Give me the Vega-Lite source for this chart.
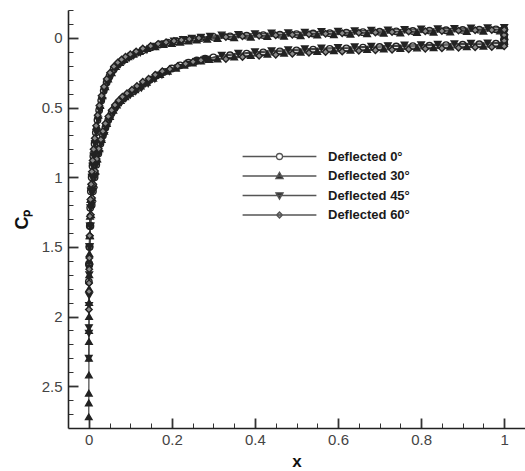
{
  "$schema": "https://vega.github.io/schema/vega-lite/v6.json",
  "width": 457,
  "height": 418,
  "autosize": {"type": "none"},
  "padding": {"left": 68, "top": 10, "right": 0, "bottom": 43},
  "background": "white",
  "config": {
    "view": {"stroke": null},
    "axis": {
      "grid": false,
      "domainColor": "#222222",
      "domainWidth": 1.6,
      "tickColor": "#333333",
      "labelFont": "Liberation Sans",
      "labelFontSize": 15,
      "labelColor": "#444444",
      "titleFont": "Liberation Sans",
      "titleFontWeight": "bold",
      "titleColor": "#111111"
    }
  },
  "data": {
    "values": [
      {"d": "0", "x": 1, "y": -0.02}, {"d": "0", "x": 1, "y": 0.01},
      {"d": "0", "x": 1, "y": 0.04}, {"d": "0", "x": 0.98, "y": 0.042}, {"d": "0", "x": 0.94, "y": 0.046}, {"d": "0", "x": 0.9, "y": 0.049},
      {"d": "0", "x": 0.86, "y": 0.052}, {"d": "0", "x": 0.82, "y": 0.056}, {"d": "0", "x": 0.78, "y": 0.059}, {"d": "0", "x": 0.74, "y": 0.062},
      {"d": "0", "x": 0.7, "y": 0.066}, {"d": "0", "x": 0.66, "y": 0.07}, {"d": "0", "x": 0.62, "y": 0.075}, {"d": "0", "x": 0.58, "y": 0.079},
      {"d": "0", "x": 0.54, "y": 0.084}, {"d": "0", "x": 0.5, "y": 0.09}, {"d": "0", "x": 0.46, "y": 0.097}, {"d": "0", "x": 0.42, "y": 0.104},
      {"d": "0", "x": 0.38, "y": 0.113}, {"d": "0", "x": 0.34, "y": 0.125}, {"d": "0", "x": 0.3, "y": 0.14},
      {"d": "0", "x": 0.28, "y": 0.15}, {"d": "0", "x": 0.26, "y": 0.162}, {"d": "0", "x": 0.24, "y": 0.178}, {"d": "0", "x": 0.22, "y": 0.197},
      {"d": "0", "x": 0.2, "y": 0.22}, {"d": "0", "x": 0.18, "y": 0.245}, {"d": "0", "x": 0.163, "y": 0.27}, {"d": "0", "x": 0.147, "y": 0.3},
      {"d": "0", "x": 0.132, "y": 0.33}, {"d": "0", "x": 0.118, "y": 0.36}, {"d": "0", "x": 0.105, "y": 0.385}, {"d": "0", "x": 0.093, "y": 0.41},
      {"d": "0", "x": 0.082, "y": 0.435}, {"d": "0", "x": 0.072, "y": 0.465}, {"d": "0", "x": 0.063, "y": 0.5}, {"d": "0", "x": 0.055, "y": 0.54},
      {"d": "0", "x": 0.047, "y": 0.59}, {"d": "0", "x": 0.04, "y": 0.645}, {"d": "0", "x": 0.034, "y": 0.7}, {"d": "0", "x": 0.028, "y": 0.76},
      {"d": "0", "x": 0.023, "y": 0.83}, {"d": "0", "x": 0.018, "y": 0.91}, {"d": "0", "x": 0.014, "y": 1.0}, {"d": "0", "x": 0.01, "y": 1.1},
      {"d": "0", "x": 0.007, "y": 1.2}, {"d": "0", "x": 0.004, "y": 1.35}, {"d": "0", "x": 0.002, "y": 1.5},
      {"d": "0", "x": 0.001, "y": 1.63}, {"d": "0", "x": 0.0002, "y": 1.75}, {"d": "0", "x": 0.0008, "y": 1.62},
      {"d": "0", "x": 0.0015, "y": 1.5}, {"d": "0", "x": 0.0025, "y": 1.35}, {"d": "0", "x": 0.0035, "y": 1.22}, {"d": "0", "x": 0.005, "y": 1.1},
      {"d": "0", "x": 0.007, "y": 1.0}, {"d": "0", "x": 0.009, "y": 0.92}, {"d": "0", "x": 0.011, "y": 0.85}, {"d": "0", "x": 0.014, "y": 0.76},
      {"d": "0", "x": 0.017, "y": 0.68}, {"d": "0", "x": 0.021, "y": 0.59}, {"d": "0", "x": 0.025, "y": 0.52}, {"d": "0", "x": 0.03, "y": 0.45},
      {"d": "0", "x": 0.036, "y": 0.38}, {"d": "0", "x": 0.043, "y": 0.32}, {"d": "0", "x": 0.05, "y": 0.275}, {"d": "0", "x": 0.06, "y": 0.225},
      {"d": "0", "x": 0.07, "y": 0.19}, {"d": "0", "x": 0.08, "y": 0.165}, {"d": "0", "x": 0.09, "y": 0.145}, {"d": "0", "x": 0.1, "y": 0.128},
      {"d": "0", "x": 0.115, "y": 0.107}, {"d": "0", "x": 0.13, "y": 0.088}, {"d": "0", "x": 0.15, "y": 0.067}, {"d": "0", "x": 0.17, "y": 0.048},
      {"d": "0", "x": 0.19, "y": 0.034}, {"d": "0", "x": 0.21, "y": 0.024}, {"d": "0", "x": 0.23, "y": 0.015}, {"d": "0", "x": 0.25, "y": 0.007},
      {"d": "0", "x": 0.27, "y": 0.001},
      {"d": "0", "x": 0.3, "y": -0.007}, {"d": "0", "x": 0.34, "y": -0.011}, {"d": "0", "x": 0.38, "y": -0.016}, {"d": "0", "x": 0.42, "y": -0.02},
      {"d": "0", "x": 0.46, "y": -0.023}, {"d": "0", "x": 0.5, "y": -0.027}, {"d": "0", "x": 0.54, "y": -0.031}, {"d": "0", "x": 0.58, "y": -0.034},
      {"d": "0", "x": 0.62, "y": -0.038}, {"d": "0", "x": 0.66, "y": -0.041}, {"d": "0", "x": 0.7, "y": -0.044}, {"d": "0", "x": 0.74, "y": -0.047},
      {"d": "0", "x": 0.78, "y": -0.049}, {"d": "0", "x": 0.82, "y": -0.052}, {"d": "0", "x": 0.86, "y": -0.055}, {"d": "0", "x": 0.9, "y": -0.057},
      {"d": "0", "x": 0.94, "y": -0.059}, {"d": "0", "x": 0.98, "y": -0.061}, {"d": "0", "x": 1, "y": -0.062},

      {"d": "30", "x": 1, "y": -0.01}, {"d": "30", "x": 1, "y": 0.025},
      {"d": "30", "x": 0.99, "y": 0.056}, {"d": "30", "x": 0.95, "y": 0.06}, {"d": "30", "x": 0.91, "y": 0.063}, {"d": "30", "x": 0.87, "y": 0.066},
      {"d": "30", "x": 0.83, "y": 0.07}, {"d": "30", "x": 0.79, "y": 0.073}, {"d": "30", "x": 0.75, "y": 0.076}, {"d": "30", "x": 0.71, "y": 0.08},
      {"d": "30", "x": 0.67, "y": 0.084}, {"d": "30", "x": 0.63, "y": 0.089}, {"d": "30", "x": 0.59, "y": 0.093}, {"d": "30", "x": 0.55, "y": 0.098},
      {"d": "30", "x": 0.51, "y": 0.103}, {"d": "30", "x": 0.47, "y": 0.11}, {"d": "30", "x": 0.43, "y": 0.117}, {"d": "30", "x": 0.39, "y": 0.126},
      {"d": "30", "x": 0.35, "y": 0.137}, {"d": "30", "x": 0.31, "y": 0.151},
      {"d": "30", "x": 0.29, "y": 0.155}, {"d": "30", "x": 0.27, "y": 0.166}, {"d": "30", "x": 0.25, "y": 0.18}, {"d": "30", "x": 0.23, "y": 0.197},
      {"d": "30", "x": 0.21, "y": 0.218}, {"d": "30", "x": 0.19, "y": 0.24}, {"d": "30", "x": 0.1715, "y": 0.262}, {"d": "30", "x": 0.155, "y": 0.29},
      {"d": "30", "x": 0.1395, "y": 0.318}, {"d": "30", "x": 0.125, "y": 0.345}, {"d": "30", "x": 0.1115, "y": 0.372}, {"d": "30", "x": 0.099, "y": 0.397},
      {"d": "30", "x": 0.0875, "y": 0.422}, {"d": "30", "x": 0.077, "y": 0.45}, {"d": "30", "x": 0.0675, "y": 0.482}, {"d": "30", "x": 0.059, "y": 0.52},
      {"d": "30", "x": 0.051, "y": 0.565}, {"d": "30", "x": 0.0435, "y": 0.615}, {"d": "30", "x": 0.037, "y": 0.67}, {"d": "30", "x": 0.031, "y": 0.73},
      {"d": "30", "x": 0.0255, "y": 0.795}, {"d": "30", "x": 0.0205, "y": 0.87}, {"d": "30", "x": 0.016, "y": 0.955}, {"d": "30", "x": 0.012, "y": 1.05},
      {"d": "30", "x": 0.0085, "y": 1.15}, {"d": "30", "x": 0.0055, "y": 1.27}, {"d": "30", "x": 0.003, "y": 1.42},
      {"d": "30", "x": 0.0015, "y": 1.6}, {"d": "30", "x": 0.001, "y": 1.8}, {"d": "30", "x": 0.0007, "y": 2.0}, {"d": "30", "x": 0.0005, "y": 2.18},
      {"d": "30", "x": 0.0003, "y": 2.42}, {"d": "30", "x": 0.0001, "y": 2.62}, {"d": "30", "x": 0, "y": 2.72}, {"d": "30", "x": 0.0002, "y": 2.55},
      {"d": "30", "x": 0.0004, "y": 2.3}, {"d": "30", "x": 0.0006, "y": 2.1}, {"d": "30", "x": 0.0009, "y": 1.9}, {"d": "30", "x": 0.0012, "y": 1.7},
      {"d": "30", "x": 0.0016, "y": 1.55},
      {"d": "30", "x": 0.002, "y": 1.42}, {"d": "30", "x": 0.003, "y": 1.28}, {"d": "30", "x": 0.0042, "y": 1.16}, {"d": "30", "x": 0.006, "y": 1.05},
      {"d": "30", "x": 0.008, "y": 0.96}, {"d": "30", "x": 0.01, "y": 0.88}, {"d": "30", "x": 0.0125, "y": 0.8}, {"d": "30", "x": 0.0155, "y": 0.72},
      {"d": "30", "x": 0.019, "y": 0.63}, {"d": "30", "x": 0.023, "y": 0.555}, {"d": "30", "x": 0.0275, "y": 0.485}, {"d": "30", "x": 0.033, "y": 0.415},
      {"d": "30", "x": 0.0395, "y": 0.35}, {"d": "30", "x": 0.0465, "y": 0.295}, {"d": "30", "x": 0.055, "y": 0.25}, {"d": "30", "x": 0.065, "y": 0.205},
      {"d": "30", "x": 0.075, "y": 0.177}, {"d": "30", "x": 0.085, "y": 0.155}, {"d": "30", "x": 0.095, "y": 0.136}, {"d": "30", "x": 0.1075, "y": 0.117},
      {"d": "30", "x": 0.1225, "y": 0.097}, {"d": "30", "x": 0.14, "y": 0.077}, {"d": "30", "x": 0.16, "y": 0.063}, {"d": "30", "x": 0.18, "y": 0.047},
      {"d": "30", "x": 0.2, "y": 0.041}, {"d": "30", "x": 0.22, "y": 0.031}, {"d": "30", "x": 0.24, "y": 0.023}, {"d": "30", "x": 0.26, "y": 0.016},
      {"d": "30", "x": 0.285, "y": 0.009},
      {"d": "30", "x": 0.31, "y": 0.004}, {"d": "30", "x": 0.35, "y": 0.0}, {"d": "30", "x": 0.39, "y": -0.005}, {"d": "30", "x": 0.43, "y": -0.009},
      {"d": "30", "x": 0.47, "y": -0.012}, {"d": "30", "x": 0.51, "y": -0.016}, {"d": "30", "x": 0.55, "y": -0.02}, {"d": "30", "x": 0.59, "y": -0.023},
      {"d": "30", "x": 0.63, "y": -0.026}, {"d": "30", "x": 0.67, "y": -0.03}, {"d": "30", "x": 0.71, "y": -0.033}, {"d": "30", "x": 0.75, "y": -0.035},
      {"d": "30", "x": 0.79, "y": -0.038}, {"d": "30", "x": 0.83, "y": -0.041}, {"d": "30", "x": 0.87, "y": -0.043}, {"d": "30", "x": 0.91, "y": -0.045},
      {"d": "30", "x": 0.95, "y": -0.048}, {"d": "30", "x": 0.99, "y": -0.049},

      {"d": "45", "x": 1, "y": -0.035}, {"d": "45", "x": 1, "y": 0.0}, {"d": "45", "x": 1, "y": 0.032},
      {"d": "45", "x": 0.96, "y": 0.036}, {"d": "45", "x": 0.92, "y": 0.039}, {"d": "45", "x": 0.88, "y": 0.042}, {"d": "45", "x": 0.84, "y": 0.046},
      {"d": "45", "x": 0.8, "y": 0.049}, {"d": "45", "x": 0.76, "y": 0.052}, {"d": "45", "x": 0.72, "y": 0.056}, {"d": "45", "x": 0.68, "y": 0.06},
      {"d": "45", "x": 0.64, "y": 0.064}, {"d": "45", "x": 0.6, "y": 0.069}, {"d": "45", "x": 0.56, "y": 0.073}, {"d": "45", "x": 0.52, "y": 0.079},
      {"d": "45", "x": 0.48, "y": 0.085}, {"d": "45", "x": 0.44, "y": 0.092}, {"d": "45", "x": 0.4, "y": 0.1}, {"d": "45", "x": 0.36, "y": 0.111},
      {"d": "45", "x": 0.32, "y": 0.124},
      {"d": "45", "x": 0.281, "y": 0.154}, {"d": "45", "x": 0.259, "y": 0.17}, {"d": "45", "x": 0.238, "y": 0.189}, {"d": "45", "x": 0.216, "y": 0.212},
      {"d": "45", "x": 0.194, "y": 0.241}, {"d": "45", "x": 0.176, "y": 0.266}, {"d": "45", "x": 0.159, "y": 0.296}, {"d": "45", "x": 0.143, "y": 0.33},
      {"d": "45", "x": 0.127, "y": 0.36}, {"d": "45", "x": 0.113, "y": 0.385}, {"d": "45", "x": 0.1, "y": 0.41}, {"d": "45", "x": 0.089, "y": 0.435},
      {"d": "45", "x": 0.078, "y": 0.465}, {"d": "45", "x": 0.068, "y": 0.5}, {"d": "45", "x": 0.059, "y": 0.54}, {"d": "45", "x": 0.051, "y": 0.59},
      {"d": "45", "x": 0.043, "y": 0.645}, {"d": "45", "x": 0.037, "y": 0.7}, {"d": "45", "x": 0.03, "y": 0.76}, {"d": "45", "x": 0.025, "y": 0.83},
      {"d": "45", "x": 0.019, "y": 0.91}, {"d": "45", "x": 0.015, "y": 1.0}, {"d": "45", "x": 0.011, "y": 1.1}, {"d": "45", "x": 0.0076, "y": 1.2},
      {"d": "45", "x": 0.0043, "y": 1.35}, {"d": "45", "x": 0.0022, "y": 1.5},
      {"d": "45", "x": 0.0012, "y": 1.7}, {"d": "45", "x": 0.0007, "y": 1.92}, {"d": "45", "x": 0.0003, "y": 2.12}, {"d": "45", "x": 0, "y": 2.3},
      {"d": "45", "x": 0.0004, "y": 2.08}, {"d": "45", "x": 0.0009, "y": 1.85}, {"d": "45", "x": 0.0013, "y": 1.65},
      {"d": "45", "x": 0.0016, "y": 1.5}, {"d": "45", "x": 0.0027, "y": 1.35}, {"d": "45", "x": 0.0038, "y": 1.22}, {"d": "45", "x": 0.0054, "y": 1.1},
      {"d": "45", "x": 0.0076, "y": 1.0}, {"d": "45", "x": 0.0097, "y": 0.92}, {"d": "45", "x": 0.0119, "y": 0.85}, {"d": "45", "x": 0.0151, "y": 0.76},
      {"d": "45", "x": 0.0184, "y": 0.68}, {"d": "45", "x": 0.0227, "y": 0.59}, {"d": "45", "x": 0.027, "y": 0.52}, {"d": "45", "x": 0.0324, "y": 0.45},
      {"d": "45", "x": 0.0389, "y": 0.38}, {"d": "45", "x": 0.0464, "y": 0.32}, {"d": "45", "x": 0.054, "y": 0.275}, {"d": "45", "x": 0.0648, "y": 0.225},
      {"d": "45", "x": 0.0756, "y": 0.19}, {"d": "45", "x": 0.0864, "y": 0.165}, {"d": "45", "x": 0.0972, "y": 0.145}, {"d": "45", "x": 0.108, "y": 0.128},
      {"d": "45", "x": 0.124, "y": 0.107}, {"d": "45", "x": 0.14, "y": 0.088}, {"d": "45", "x": 0.162, "y": 0.061}, {"d": "45", "x": 0.184, "y": 0.042},
      {"d": "45", "x": 0.205, "y": 0.022}, {"d": "45", "x": 0.227, "y": 0.012}, {"d": "45", "x": 0.248, "y": 0.003}, {"d": "45", "x": 0.27, "y": -0.005},
      {"d": "45", "x": 0.292, "y": -0.011},
      {"d": "45", "x": 0.32, "y": -0.021}, {"d": "45", "x": 0.36, "y": -0.025}, {"d": "45", "x": 0.4, "y": -0.03}, {"d": "45", "x": 0.44, "y": -0.034},
      {"d": "45", "x": 0.48, "y": -0.037}, {"d": "45", "x": 0.52, "y": -0.041}, {"d": "45", "x": 0.56, "y": -0.045}, {"d": "45", "x": 0.6, "y": -0.048},
      {"d": "45", "x": 0.64, "y": -0.051}, {"d": "45", "x": 0.68, "y": -0.054}, {"d": "45", "x": 0.72, "y": -0.057}, {"d": "45", "x": 0.76, "y": -0.06},
      {"d": "45", "x": 0.8, "y": -0.063}, {"d": "45", "x": 0.84, "y": -0.065}, {"d": "45", "x": 0.88, "y": -0.068}, {"d": "45", "x": 0.92, "y": -0.07},
      {"d": "45", "x": 0.96, "y": -0.072}, {"d": "45", "x": 1, "y": -0.074},

      {"d": "60", "x": 1, "y": -0.02}, {"d": "60", "x": 1, "y": 0.02}, {"d": "60", "x": 1, "y": 0.06},
      {"d": "60", "x": 0.97, "y": 0.065}, {"d": "60", "x": 0.93, "y": 0.068}, {"d": "60", "x": 0.89, "y": 0.071}, {"d": "60", "x": 0.85, "y": 0.075},
      {"d": "60", "x": 0.81, "y": 0.078}, {"d": "60", "x": 0.77, "y": 0.082}, {"d": "60", "x": 0.73, "y": 0.085}, {"d": "60", "x": 0.69, "y": 0.089},
      {"d": "60", "x": 0.65, "y": 0.093}, {"d": "60", "x": 0.61, "y": 0.098}, {"d": "60", "x": 0.57, "y": 0.102}, {"d": "60", "x": 0.53, "y": 0.107},
      {"d": "60", "x": 0.49, "y": 0.114}, {"d": "60", "x": 0.45, "y": 0.121}, {"d": "60", "x": 0.41, "y": 0.128}, {"d": "60", "x": 0.37, "y": 0.138},
      {"d": "60", "x": 0.33, "y": 0.151},
      {"d": "60", "x": 0.27, "y": 0.16}, {"d": "60", "x": 0.251, "y": 0.171}, {"d": "60", "x": 0.233, "y": 0.185}, {"d": "60", "x": 0.214, "y": 0.202},
      {"d": "60", "x": 0.195, "y": 0.223}, {"d": "60", "x": 0.177, "y": 0.24}, {"d": "60", "x": 0.16, "y": 0.265}, {"d": "60", "x": 0.144, "y": 0.293},
      {"d": "60", "x": 0.13, "y": 0.315}, {"d": "60", "x": 0.116, "y": 0.345}, {"d": "60", "x": 0.104, "y": 0.372}, {"d": "60", "x": 0.092, "y": 0.397},
      {"d": "60", "x": 0.081, "y": 0.422}, {"d": "60", "x": 0.072, "y": 0.45}, {"d": "60", "x": 0.063, "y": 0.482}, {"d": "60", "x": 0.055, "y": 0.52},
      {"d": "60", "x": 0.047, "y": 0.565}, {"d": "60", "x": 0.04, "y": 0.615}, {"d": "60", "x": 0.034, "y": 0.67}, {"d": "60", "x": 0.029, "y": 0.73},
      {"d": "60", "x": 0.024, "y": 0.795}, {"d": "60", "x": 0.019, "y": 0.87}, {"d": "60", "x": 0.015, "y": 0.955}, {"d": "60", "x": 0.011, "y": 1.05},
      {"d": "60", "x": 0.0079, "y": 1.15}, {"d": "60", "x": 0.0051, "y": 1.27}, {"d": "60", "x": 0.0028, "y": 1.42},
      {"d": "60", "x": 0.0014, "y": 1.58}, {"d": "60", "x": 0.0008, "y": 1.76}, {"d": "60", "x": 0.0003, "y": 1.95}, {"d": "60", "x": 0.0006, "y": 1.82},
      {"d": "60", "x": 0.0011, "y": 1.66},
      {"d": "60", "x": 0.0019, "y": 1.42}, {"d": "60", "x": 0.0028, "y": 1.28}, {"d": "60", "x": 0.0039, "y": 1.16}, {"d": "60", "x": 0.0056, "y": 1.05},
      {"d": "60", "x": 0.0074, "y": 0.96}, {"d": "60", "x": 0.0093, "y": 0.88}, {"d": "60", "x": 0.0116, "y": 0.8}, {"d": "60", "x": 0.0144, "y": 0.72},
      {"d": "60", "x": 0.0177, "y": 0.63}, {"d": "60", "x": 0.0214, "y": 0.555}, {"d": "60", "x": 0.0256, "y": 0.485}, {"d": "60", "x": 0.0307, "y": 0.415},
      {"d": "60", "x": 0.0367, "y": 0.35}, {"d": "60", "x": 0.0432, "y": 0.295}, {"d": "60", "x": 0.0512, "y": 0.25}, {"d": "60", "x": 0.0605, "y": 0.205},
      {"d": "60", "x": 0.0698, "y": 0.177}, {"d": "60", "x": 0.079, "y": 0.155}, {"d": "60", "x": 0.0884, "y": 0.136}, {"d": "60", "x": 0.1, "y": 0.117},
      {"d": "60", "x": 0.114, "y": 0.097}, {"d": "60", "x": 0.13, "y": 0.077}, {"d": "60", "x": 0.149, "y": 0.059}, {"d": "60", "x": 0.167, "y": 0.043},
      {"d": "60", "x": 0.186, "y": 0.031}, {"d": "60", "x": 0.205, "y": 0.023}, {"d": "60", "x": 0.223, "y": 0.015}, {"d": "60", "x": 0.242, "y": 0.008},
      {"d": "60", "x": 0.265, "y": 0.001},
      {"d": "60", "x": 0.33, "y": -0.006}, {"d": "60", "x": 0.37, "y": -0.011}, {"d": "60", "x": 0.41, "y": -0.015}, {"d": "60", "x": 0.45, "y": -0.019},
      {"d": "60", "x": 0.49, "y": -0.022}, {"d": "60", "x": 0.53, "y": -0.026}, {"d": "60", "x": 0.57, "y": -0.029}, {"d": "60", "x": 0.61, "y": -0.033},
      {"d": "60", "x": 0.65, "y": -0.036}, {"d": "60", "x": 0.69, "y": -0.039}, {"d": "60", "x": 0.73, "y": -0.042}, {"d": "60", "x": 0.77, "y": -0.045},
      {"d": "60", "x": 0.81, "y": -0.047}, {"d": "60", "x": 0.85, "y": -0.05}, {"d": "60", "x": 0.89, "y": -0.052}, {"d": "60", "x": 0.93, "y": -0.054},
      {"d": "60", "x": 0.97, "y": -0.057}, {"d": "60", "x": 1, "y": -0.058}
    ]
  },
  "encoding": {
    "x": {
      "field": "x",
      "type": "quantitative",
      "scale": {"domain": [-0.05, 1.05], "nice": false, "zero": false},
      "axis": {
        "title": "x",
        "titleFontSize": 17,
        "titlePadding": 6,
        "values": [0, 0.05, 0.1, 0.15, 0.2, 0.25, 0.3, 0.35, 0.4, 0.45, 0.5, 0.55, 0.6, 0.65, 0.7, 0.75, 0.8, 0.85, 0.9, 0.95, 1],
        "labelExpr": "round(datum.value * 100) % 20 == 0 ? format(datum.value, '~g') : ''",
        "tickSize": {"condition": {"test": "round(datum.value * 100) % 20 == 0", "value": -10}, "value": -5},
        "tickWidth": {"condition": {"test": "round(datum.value * 100) % 20 == 0", "value": 1.8}, "value": 1},
        "labelPadding": 14
      }
    },
    "y": {
      "field": "y",
      "type": "quantitative",
      "scale": {"domain": [-0.2, 2.8], "reverse": true, "nice": false, "zero": false},
      "axis": {
        "title": "Cₚ",
        "titleFontSize": 18,
        "titlePadding": 10,
        "values": [-0.2, -0.1, 0, 0.1, 0.2, 0.3, 0.4, 0.5, 0.6, 0.7, 0.8, 0.9, 1, 1.1, 1.2, 1.3, 1.4, 1.5, 1.6, 1.7, 1.8, 1.9, 2, 2.1, 2.2, 2.3, 2.4, 2.5, 2.6, 2.7],
        "labelExpr": "abs(round(datum.value * 10)) % 5 == 0 ? format(datum.value, '~g') : ''",
        "tickSize": {"condition": {"test": "abs(round(datum.value * 10)) % 5 == 0", "value": -10}, "value": -5},
        "tickWidth": {"condition": {"test": "abs(round(datum.value * 10)) % 5 == 0", "value": 1.8}, "value": 1},
        "labelPadding": 16
      }
    }
  },
  "layer": [
    {
      "mark": {"type": "line", "stroke": "#444444", "strokeWidth": 1.2},
      "encoding": {
        "detail": {"field": "d", "type": "nominal"},
        "order": {"value": null}
      }
    },
    {
      "mark": {"type": "point", "filled": true, "size": 42, "stroke": "#222222", "strokeWidth": 1.4, "opacity": 1},
      "encoding": {
        "shape": {
          "field": "d",
          "type": "nominal",
          "scale": {"domain": ["0", "30", "45", "60"], "range": ["circle", "triangle-up", "triangle-down", "diamond"]},
          "legend": null
        },
        "fill": {
          "field": "d",
          "type": "nominal",
          "scale": {"domain": ["0", "30", "45", "60"], "range": ["transparent", "#222222", "#222222", "#8a8a8a"]},
          "legend": null
        }
      }
    },
    {
      "mark": {"type": "point", "filled": true, "size": 36, "stroke": "#555555", "strokeWidth": 1.3, "opacity": 0},
      "encoding": {
        "shape": {
          "field": "d",
          "type": "nominal",
          "scale": {
            "domain": ["0", "30", "45", "60"],
            "range": [
              "M-12.3,0H-1M1,0H12.3M1,0A1,1 0 1,1 -1,0A1,1 0 1,1 1,0Z",
              "M-12.3,0H12.3M0,-1.2L1.2,0.9L-1.2,0.9Z",
              "M-12.3,0H12.3M0,1.2L1.2,-0.9L-1.2,-0.9Z",
              "M-12.3,0H12.3M0,-1L1,0L0,1L-1,0Z"
            ]
          },
          "legend": {
            "title": null,
            "orient": "none",
            "legendX": 205,
            "legendY": 140,
            "padding": 0,
            "rowPadding": 5.5,
            "symbolSize": 36,
            "symbolOpacity": 1,
            "symbolStrokeWidth": 1.3,
            "symbolStrokeColor": "#555555",
            "labelOffset": 42,
            "labelFont": "Liberation Sans",
            "labelFontSize": 13,
            "labelFontWeight": "bold",
            "labelColor": "#1a1a1a",
            "labelExpr": "'Deflected ' + datum.label + '°'",
            "encode": {
              "symbols": {
                "update": {
                  "stroke": {"value": "#555555"},
                  "strokeWidth": {"value": 1.3},
                  "opacity": {"value": 1}
                }
              }
            }
          }
        },
        "fill": {
          "field": "d",
          "type": "nominal",
          "scale": {"domain": ["0", "30", "45", "60"], "range": ["#ffffff", "#2b2b2b", "#2b2b2b", "#9a9a9a"]},
          "legend": {
            "title": null,
            "orient": "none",
            "legendX": 205,
            "legendY": 140,
            "padding": 0,
            "rowPadding": 5.5,
            "symbolSize": 36,
            "symbolOpacity": 1,
            "symbolStrokeWidth": 1.3,
            "symbolStrokeColor": "#555555",
            "labelOffset": 42,
            "labelFont": "Liberation Sans",
            "labelFontSize": 13,
            "labelFontWeight": "bold",
            "labelColor": "#1a1a1a",
            "labelExpr": "'Deflected ' + datum.label + '°'",
            "encode": {
              "symbols": {
                "update": {
                  "stroke": {"value": "#555555"},
                  "strokeWidth": {"value": 1.3},
                  "opacity": {"value": 1}
                }
              }
            }
          }
        }
      }
    }
  ],
  "resolve": {"scale": {"shape": "independent", "fill": "independent"}}
}
